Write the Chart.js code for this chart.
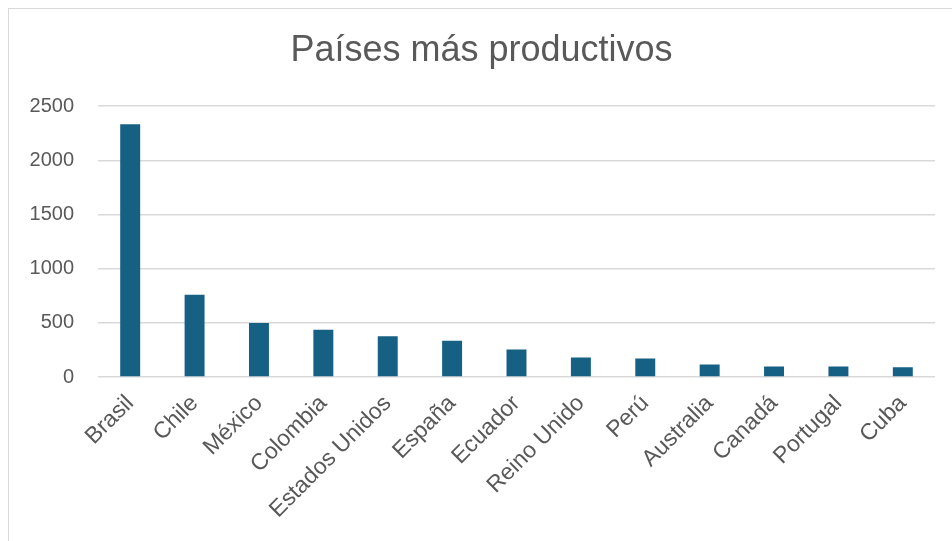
<!DOCTYPE html>
<html>
<head>
<meta charset="utf-8">
<script src="https://cdn.jsdelivr.net/npm/chart.js@4"></script>
<style>
  html, body { margin: 0; padding: 0; background: #fff; overflow: hidden; }
  #frame { position: absolute; left: 8px; top: 8px; width: 960px; height: 560px; border: 1px solid #d9d9d9; box-sizing: border-box; }
  #wrap { position: absolute; left: 28px; top: 9px; width: 924px; height: 532px; }
</style>
</head>
<body>
<div id="frame"></div>
<div id="wrap"><canvas id="chart-paises"></canvas></div>
<script>
// --- data ---
const paises = ['Brasil', 'Chile', 'México', 'Colombia', 'Estados Unidos', 'España', 'Ecuador', 'Reino Unido', 'Perú', 'Australia', 'Canadá', 'Portugal', 'Cuba'];
const produccion = [2334, 759, 498, 436, 376, 335, 255, 180, 171, 115, 96, 96, 90];
const yTicks = [0, 500, 1000, 1500, 2000, 2500];

const FONT = '"Liberation Sans", Arial, sans-serif';
const GRAY = '#595959';

new Chart(document.getElementById('chart-paises'), {
  type: 'bar',
  data: {
    labels: paises,
    datasets: [{
      label: 'Países',
      data: produccion,
      backgroundColor: '#166083',
      borderWidth: 0,
      categoryPercentage: 1,
      barPercentage: 0.31,
    }]
  },
  options: {
    responsive: true,
    maintainAspectRatio: false,
    animation: false,
    layout: { padding: { left: 0, right: 17, top: 0, bottom: 0 } },
    plugins: {
      legend: { display: false },
      tooltip: { enabled: false },
      title: {
        display: true,
        text: 'Países más productivos',
        color: GRAY,
        font: { family: FONT, size: 36, weight: 'normal' },
        padding: { top: 20, bottom: 34 },
      },
    },
    scales: {
      x: {
        grid: { display: false },
        border: { display: false },
        ticks: { color: GRAY, font: { family: FONT, size: 23 }, minRotation: 45, maxRotation: 45, autoSkip: false, padding: 5 },
        afterFit: s => { s.height = 164; },
      },
      y: {
        min: 0,
        max: 2500,
        afterBuildTicks: s => { s.ticks = yTicks.map(v => ({ value: v })); },
        grid: { color: '#d9d9d9', lineWidth: 1.5, drawTicks: false },
        border: { display: false },
        ticks: { color: GRAY, font: { family: FONT, size: 20 }, padding: 24, callback: v => String(v) },
        afterFit: s => { s.width = 70; },
      }
    }
  }
});
</script>
</body>
</html>
